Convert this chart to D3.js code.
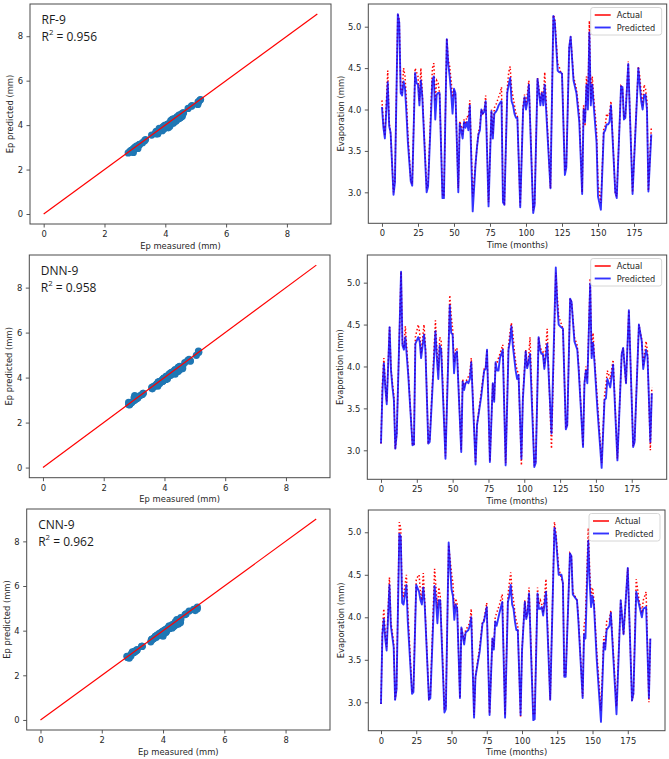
<!DOCTYPE html>
<html><head><meta charset="utf-8">
<script src="https://cdn.jsdelivr.net/npm/d3@7"></script>
<style>body{margin:0;background:#fff}svg{display:block}</style>
</head><body><svg id="c" width="669" height="759"></svg>
<script>
// ---------------- DATA ----------------
const models = ["RF-9", "DNN-9", "CNN-9"];
const r2Values = ["0.956", "0.958", "0.962"];
const legendLabels = ["Actual", "Predicted"];
const scatterTicks = [0, 2, 4, 6, 8];
const timeTicks = [0, 25, 50, 75, 100, 125, 150, 175];
const evapTicks = [3.0, 3.5, 4.0, 4.5, 5.0];
const identityLine = [0, 9];

const rfMonths = [
  0,1,2,4,5,6,8,9,11,12,
  13,14,15,16,17,18,20,21,23,24,
  25,26,27,28,31,32,35,36,37,38,
  39,40,42,43,45,46,47,48,49,50,
  51,53,54,55,56,57,58,59,60,61,
  63,65,66,67,68,69,70,71,72,74,
  76,77,78,79,80,81,82,83,84,85,
  87,88,89,90,91,92,93,94,96,98,
  99,100,101,102,105,106,108,109,110,111,
  112,113,117,119,120,122,123,124,125,127,
  128,130,131,133,135,137,139,140,141,142,
  143,144,145,146,147,149,150,152,154,155,
  156,157,158,159,162,163,166,167,168,169,
  171,174,178,179,180,181,182,183,184,185,
  187];
const rfPredicted = [
  4.03,3.78,3.65,4.33,3.80,3.72,2.97,3.12,5.15,5.05,
  4.20,4.17,4.34,4.25,3.95,3.60,3.13,3.08,4.44,4.32,
  4.30,4.05,4.35,4.15,3.00,3.07,4.35,4.40,3.88,4.18,
  4.20,4.20,2.93,2.93,4.85,4.55,4.40,4.20,3.95,4.25,
  4.20,3.00,3.83,3.75,3.65,3.85,3.78,3.85,3.75,4.05,
  2.77,3.35,3.55,3.70,3.75,4.00,3.95,3.97,4.10,2.83,
  3.98,3.65,3.95,3.97,4.00,4.05,4.08,4.10,2.88,2.85,
  4.20,4.30,4.38,4.10,4.05,3.95,3.90,3.90,2.82,4.00,
  4.15,4.00,4.10,4.30,2.75,2.85,4.37,4.20,4.05,4.20,
  4.05,4.30,3.05,5.13,5.05,4.47,4.45,4.45,4.43,3.21,
  3.30,4.75,4.88,4.35,4.20,3.85,2.98,4.00,3.85,4.30,
  4.00,4.93,4.05,4.30,4.05,3.60,2.95,2.79,3.72,3.75,
  3.82,3.82,3.85,4.05,3.00,2.93,4.28,4.27,3.88,3.90,
  4.55,2.98,4.50,4.30,4.10,4.00,4.17,4.18,4.00,3.01,
  3.70];
const rfActual = [
  4.11,3.82,3.68,4.47,3.85,3.70,3.00,3.15,5.16,5.08,
  4.25,4.20,4.50,4.40,4.10,3.70,3.15,3.10,4.50,4.45,
  4.40,4.10,4.50,4.20,3.05,3.10,4.50,4.56,4.10,4.35,
  4.32,4.20,2.98,2.95,4.86,4.60,4.52,4.35,4.15,4.22,
  4.18,3.05,3.86,3.80,3.70,3.88,3.82,3.92,3.90,4.11,
  2.95,3.35,3.55,3.72,3.80,4.00,3.95,3.98,4.17,2.88,
  4.00,3.70,4.02,4.05,4.10,4.15,4.20,4.27,2.90,2.87,
  4.25,4.45,4.52,4.25,4.15,4.05,3.95,3.92,2.84,4.05,
  4.18,4.05,4.20,4.35,2.78,2.87,4.38,4.25,4.10,4.22,
  4.10,4.45,3.05,5.14,5.10,4.55,4.52,4.45,4.45,3.25,
  3.32,4.75,4.88,4.40,4.25,3.95,3.00,4.05,3.80,4.40,
  4.10,5.07,4.10,4.40,4.15,3.75,3.10,2.87,3.78,3.80,
  3.95,3.92,3.95,4.10,3.00,2.95,4.28,4.25,3.90,3.92,
  4.58,3.00,4.52,4.40,4.20,4.05,4.30,4.25,4.10,3.02,
  3.78];

const dnnMonths = [
  0,1,2,3,4,6,7,8,9,10,
  11,14,15,16,17,19,22,23,24,26,
  27,28,30,31,33,34,38,39,40,41,
  42,45,48,49,50,51,52,53,56,57,
  58,59,60,61,62,63,66,67,70,72,
  73,74,76,78,79,80,81,82,83,85,
  87,89,90,91,92,93,94,95,96,98,
  99,101,102,103,104,107,108,110,111,112,
  113,114,116,119,122,123,124,125,127,129,
  130,132,133,135,137,138,141,142,143,144,
  146,147,148,149,151,154,156,157,158,160,
  162,165,168,169,171,173,176,177,180,182,
  183,185,186,188,189];
const dnnPredicted = [
  3.08,3.70,4.04,3.75,3.55,4.47,3.95,3.75,3.60,3.02,
  3.20,5.13,4.25,4.20,4.35,3.90,3.06,3.07,4.27,4.35,
  4.30,4.10,4.38,4.20,3.08,3.10,4.42,4.10,3.85,4.25,
  4.20,2.90,4.73,4.40,4.38,3.92,4.15,4.18,2.98,3.82,
  3.72,3.80,3.82,3.80,3.85,4.05,2.83,3.30,3.65,3.95,
  3.97,4.20,2.86,3.80,3.58,4.05,3.95,3.95,4.10,4.20,
  2.82,4.20,4.30,4.48,4.25,4.10,3.95,3.85,3.90,2.90,
  3.60,4.18,3.98,4.05,4.15,2.80,2.85,4.35,4.20,4.15,
  4.15,3.97,4.27,3.20,5.18,4.75,4.50,4.48,4.45,3.25,
  3.30,4.81,4.77,4.30,4.20,3.95,3.04,3.80,3.95,3.80,
  4.99,4.10,4.28,4.05,3.50,2.79,3.60,3.62,3.85,3.75,
  4.02,2.88,4.15,4.22,3.80,4.67,3.04,3.10,4.50,4.30,
  3.97,4.20,4.12,3.10,3.68];
const dnnActual = [
  3.08,3.80,4.10,3.78,3.58,4.47,3.97,3.80,3.65,3.02,
  3.20,5.13,4.27,4.22,4.48,3.95,3.06,3.07,4.35,4.50,
  4.40,4.15,4.50,4.25,3.10,3.12,4.55,4.20,3.95,4.35,
  4.30,2.93,4.85,4.60,4.45,4.05,4.20,4.22,3.00,3.85,
  3.75,3.80,3.85,3.88,3.92,4.10,2.85,3.30,3.70,3.97,
  3.98,4.20,2.87,3.80,3.60,4.05,4.05,4.10,4.15,4.26,
  2.85,4.25,4.40,4.52,4.40,4.20,4.05,3.95,3.92,2.82,
  3.65,4.20,4.00,4.10,4.35,2.82,2.87,4.35,4.22,4.20,
  4.18,4.00,4.45,3.02,5.12,4.85,4.60,4.55,4.45,3.27,
  3.30,4.81,4.77,4.35,4.25,4.00,3.05,3.80,4.00,3.85,
  5.05,4.15,4.40,4.10,3.60,2.85,3.65,3.78,3.95,3.85,
  4.08,2.90,4.15,4.22,3.80,4.67,3.05,3.12,4.50,4.32,
  4.00,4.30,4.18,3.00,3.75];

const cnnMonths = [
  0,1,2,3,4,6,7,9,10,11,
  13,14,15,16,18,19,22,23,25,27,
  28,29,30,31,34,35,38,39,40,41,
  42,45,46,48,50,51,52,53,54,56,
  57,59,60,62,63,64,66,67,70,72,
  73,75,77,79,80,81,82,84,86,88,
  90,91,92,93,94,95,96,97,99,100,
  102,103,104,105,108,109,111,112,113,114,
  115,117,120,123,124,126,128,129,130,131,
  134,135,136,139,140,143,144,145,147,148,
  149,150,151,153,156,158,159,160,162,163,
  167,170,172,175,178,179,181,183,185,186,
  188,190,191];
const cnnPredicted = [
  2.98,3.80,3.98,3.75,3.61,4.38,3.90,3.65,3.03,3.15,
  4.98,4.95,4.17,4.15,4.38,3.95,3.10,3.12,4.38,4.30,
  4.20,4.15,4.35,4.15,3.03,3.05,4.37,4.20,3.93,4.20,
  4.20,2.88,2.92,4.88,4.33,4.25,3.97,4.15,4.10,3.05,
  3.88,3.68,3.82,3.85,3.90,4.00,2.82,3.30,3.60,3.93,
  3.95,4.12,2.85,3.75,3.62,3.95,3.90,4.05,4.18,2.82,
  4.18,4.25,4.38,4.15,4.10,3.95,3.85,3.85,2.85,3.60,
  4.18,3.98,4.05,4.28,2.79,2.80,4.28,4.10,4.10,4.12,
  4.02,4.30,3.03,5.05,4.95,4.50,4.50,4.40,3.30,3.30,
  4.75,4.72,4.27,4.20,3.95,3.05,3.80,3.75,4.90,4.40,
  4.12,4.25,4.15,3.50,2.77,3.70,3.62,3.85,3.90,4.05,
  2.86,4.20,3.80,4.58,3.02,3.10,4.30,4.15,4.00,4.10,
  4.12,3.05,3.75];
const cnnActual = [
  2.98,3.85,4.10,3.80,3.65,4.47,3.95,3.70,3.03,3.15,
  5.12,5.05,4.27,4.25,4.50,4.10,3.12,3.15,4.45,4.50,
  4.30,4.20,4.52,4.20,3.05,3.08,4.57,4.35,4.10,4.35,
  4.25,2.93,2.95,4.85,4.52,4.40,4.10,4.22,4.15,3.05,
  3.88,3.72,3.85,3.90,3.95,4.10,2.85,3.30,3.65,3.95,
  3.97,4.17,2.87,3.75,3.65,4.00,4.05,4.15,4.27,2.85,
  4.25,4.40,4.53,4.30,4.20,4.05,3.95,3.90,2.82,3.62,
  4.20,4.00,4.10,4.35,2.85,2.87,4.35,4.15,4.20,4.15,
  4.05,4.45,3.03,5.12,5.00,4.58,4.45,4.40,3.32,3.32,
  4.75,4.72,4.30,4.20,4.00,3.07,3.90,4.00,5.05,4.55,
  4.25,4.35,4.20,3.60,2.90,3.78,3.65,3.95,3.98,4.08,
  2.95,4.20,3.80,4.58,3.02,3.10,4.45,4.20,4.05,4.20,
  4.30,3.00,3.75];

// ---------------- LAYOUT (positions / styles) ----------------
const seriesByRow = [
  {months: rfMonths, actual: rfActual, predicted: rfPredicted},
  {months: dnnMonths, actual: dnnActual, predicted: dnnPredicted},
  {months: cnnMonths, actual: cnnActual, predicted: cnnPredicted}
];
const leftFrames = [
  {x0: 30, x1: 331, y0: 4, y1: 224},
  {x0: 29.3, x1: 330, y0: 255, y1: 477.7},
  {x0: 26.7, x1: 330, y0: 509, y1: 730}
];
const rightFrames = [
  {x0: 368.3, x1: 666.7, y0: 4, y1: 223.3, xd: [-9.5, 197.7], yd: [2.626, 5.274]},
  {x0: 367.3, x1: 666.7, y0: 255, y1: 479.3, xd: [-9.56, 199.4], yd: [2.654, 5.33]},
  {x0: 368.3, x1: 665, y0: 510, y1: 730.7, xd: [-9.0, 201.4], yd: [2.666, 5.262]}
];
const scatterDomain = [-0.45, 9.45];
const tickFont = "'DejaVu Sans', sans-serif";
const tickSize = 8.4;
const textColor = "#262626";

const svg = d3.select("#c");

function styleAxis(g) {
  g.select(".domain").remove();
  g.selectAll(".tick line").attr("stroke", "#444").attr("stroke-width", 0.9);
  g.selectAll(".tick text").attr("fill", textColor)
    .style("font-family", tickFont).style("font-size", tickSize + "px");
}

function frame(f) {
  svg.append("rect").attr("x", f.x0).attr("y", f.y0)
    .attr("width", f.x1 - f.x0).attr("height", f.y1 - f.y0)
    .attr("fill", "none").attr("stroke", "#4a4a4a").attr("stroke-width", 1);
}

function axisLabels(f, xText, yText, yOffset) {
  svg.append("text").attr("x", (f.x0 + f.x1) / 2).attr("y", f.y1 + 21.5)
    .attr("text-anchor", "middle").attr("dominant-baseline", "central")
    .attr("fill", textColor).style("font-family", tickFont).style("font-size", tickSize + "px")
    .text(xText);
  const cx = f.x0 - yOffset, cy = (f.y0 + f.y1) / 2;
  svg.append("text").attr("transform", `translate(${cx},${cy}) rotate(-90)`)
    .attr("text-anchor", "middle").attr("dominant-baseline", "central")
    .attr("fill", textColor).style("font-family", tickFont).style("font-size", tickSize + "px")
    .text(yText);
}

seriesByRow.forEach((s, i) => {
  // ---------- scatter panel ----------
  const f = leftFrames[i];
  const x = d3.scaleLinear().domain(scatterDomain).range([f.x0, f.x1]);
  const y = d3.scaleLinear().domain(scatterDomain).range([f.y1, f.y0]);
  const pts = s.actual.map((a, k) => [a, s.predicted[k]]);

  svg.append("g").selectAll("circle").data(pts).join("circle")
    .attr("cx", d => x(d[0])).attr("cy", d => y(d[1])).attr("r", 3.6)
    .attr("fill", "#1f77b4");
  svg.append("line")
    .attr("x1", x(identityLine[0])).attr("y1", y(identityLine[0]))
    .attr("x2", x(identityLine[1])).attr("y2", y(identityLine[1]))
    .attr("stroke", "red").attr("stroke-width", 1.2);

  svg.append("g").attr("transform", `translate(0,${f.y1})`)
    .call(d3.axisBottom(x).tickValues(scatterTicks).tickSize(3.5).tickPadding(3.5).tickFormat(d3.format("d")))
    .call(styleAxis);
  svg.append("g").attr("transform", `translate(${f.x0},0)`)
    .call(d3.axisLeft(y).tickValues(scatterTicks).tickSize(3.5).tickPadding(3.5).tickFormat(d3.format("d")))
    .call(styleAxis);
  frame(f);
  axisLabels(f, "Ep measured (mm)", "Ep predicted (mm)", 20);

  const ann = svg.append("g").style("font-family", "'Open Sans', sans-serif")
    .style("font-size", "12px").attr("fill", "#1a1a1a");
  ann.append("text").attr("x", f.x0 + 11.5).attr("y", f.y0 + 15.2)
    .attr("dominant-baseline", "central").text(models[i]);
  const r2 = ann.append("text").attr("x", f.x0 + 11.5).attr("y", f.y0 + 31.8)
    .attr("dominant-baseline", "central");
  r2.append("tspan").text("R");
  r2.append("tspan").attr("dy", -4.3).style("font-size", "7.8px").text("2");
  r2.append("tspan").attr("dy", 4.3).text(" = " + r2Values[i]);

  // ---------- time series panel ----------
  const g = rightFrames[i];
  const tx = d3.scaleLinear().domain(g.xd).range([g.x0, g.x1]);
  const ty = d3.scaleLinear().domain(g.yd).range([g.y1, g.y0]);
  const line = d3.line().x(d => tx(d[0])).y(d => ty(d[1]));
  const actualPts = s.months.map((m, k) => [m, s.actual[k]]);
  const predPts = s.months.map((m, k) => [m, s.predicted[k]]);

  svg.append("path").datum(actualPts).attr("d", line)
    .attr("fill", "none").attr("stroke", "red").attr("stroke-width", 1.5)
    .attr("stroke-dasharray", "1.5,2.2");
  svg.append("path").datum(predPts).attr("d", line)
    .attr("fill", "none").attr("stroke", "blue").attr("stroke-width", 1.9)
    .attr("stroke-opacity", 0.8).attr("stroke-linejoin", "round");

  svg.append("g").attr("transform", `translate(0,${g.y1})`)
    .call(d3.axisBottom(tx).tickValues(timeTicks).tickSize(3.5).tickPadding(3.5).tickFormat(d3.format("d")))
    .call(styleAxis);
  svg.append("g").attr("transform", `translate(${g.x0},0)`)
    .call(d3.axisLeft(ty).tickValues(evapTicks).tickSize(3.5).tickPadding(3.5).tickFormat(d3.format(".1f")))
    .call(styleAxis);
  frame(g);
  axisLabels(g, "Time (months)", "Evaporation (mm)", 27.5);

  // legend
  const lx = g.x1 - 76, ly = g.y0 + 3.5;
  const lg = svg.append("g");
  lg.append("rect").attr("x", lx).attr("y", ly).attr("width", 71).attr("height", 27.5)
    .attr("rx", 2.5).attr("fill", "white").attr("fill-opacity", 0.8)
    .attr("stroke", "#cccccc").attr("stroke-width", 0.8);
  const legendStyles = [
    {stroke: "red", width: 1.5, opacity: 1},
    {stroke: "blue", width: 1.9, opacity: 0.8}
  ];
  legendLabels.forEach((lab, k) => {
    const yy = ly + 7.5 + k * 12.5;
    lg.append("line").attr("x1", lx + 4).attr("x2", lx + 20).attr("y1", yy).attr("y2", yy)
      .attr("stroke", legendStyles[k].stroke).attr("stroke-width", legendStyles[k].width)
      .attr("stroke-opacity", legendStyles[k].opacity);
    lg.append("text").attr("x", lx + 26).attr("y", yy).attr("dominant-baseline", "central")
      .attr("fill", textColor).style("font-family", tickFont).style("font-size", "8.2px").text(lab);
  });
});
</script>
</body></html>
